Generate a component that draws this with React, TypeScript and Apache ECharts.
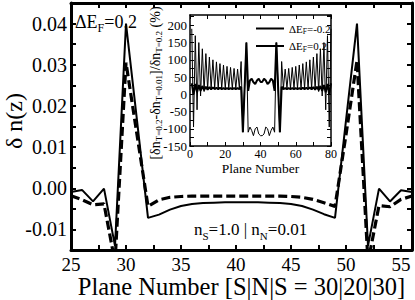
import React, { useEffect, useRef } from 'react';
import * as echarts from 'echarts';

const FONT = "'Liberation Serif', 'Times New Roman', serif";

// ---- main panel data ----
const planeNumbers = [25, 26, 27, 28, 29, 30, 31, 32, 33, 34, 35, 36, 37, 38, 39, 40, 41, 42, 43, 44, 45, 46, 47, 48, 49, 50, 51, 52, 53, 54, 55, 56];
const deltaNSolid = [-0.0009, -0.0004, -0.0032, -0.0001, -0.0140, 0.0400, 0.0165, -0.0072, -0.0064, -0.0052, -0.0043, -0.0038, -0.0036, -0.0035, -0.0034, -0.0034, -0.0034, -0.0034, -0.0035, -0.0036, -0.0038, -0.0043, -0.0052, -0.0063, -0.0072, 0.0165, 0.0400, -0.0140, -0.0001, -0.0032, -0.0005, -0.0009];
const deltaNDashed = [-0.0018, -0.0028, -0.0040, -0.0038, -0.0180, 0.0305, 0.0130, -0.0044, -0.0028, -0.0022, -0.0020, -0.0019, -0.0019, -0.0019, -0.0019, -0.0019, -0.0019, -0.0019, -0.0019, -0.0019, -0.0020, -0.0022, -0.0027, -0.0035, -0.0044, 0.0130, 0.0310, -0.0180, -0.0042, -0.0045, -0.0027, -0.0019];
const mainXLabelValues = [25, 30, 35, 40, 45, 50, 55];
const mainYLabelValues = [-0.01, 0, 0.01, 0.02, 0.03, 0.04];
const mainYLabels = ['-0.01', '0.00', '0.01', '0.02', '0.03', '0.04'];

// ---- inset data ----
const insetPlanes = [1, 2, 3, 4, 5, 6, 7, 8, 9, 10, 11, 12, 13, 14, 15, 16, 17, 18, 19, 20, 21, 22, 23, 24, 25, 26, 27, 28, 29, 30, 31, 32, 33, 34, 35, 36, 37, 38, 39, 40, 41, 42, 43, 44, 45, 46, 47, 48, 49, 50, 51, 52, 53, 54, 55, 56, 57, 58, 59, 60, 61, 62, 63, 64, 65, 66, 67, 68, 69, 70, 71, 72, 73, 74, 75, 76, 77, 78, 79, 80];
const insetThick = [32, 0, 30, 6, 27, 10, 24, 12, 22, 13, 21, 14, 20, 15, 19, 15, 19, 15, 18, 15, 18, 15, 18, 15, 18, 15, 18, 15, 22, -110,
  20, 150, 10, 40, 45, 35, 30, 40, 45, 36, 36, 45, 40, 30, 35, 45, 40, 10, 150, 20,
  -110, 22, 15, 18, 15, 18, 15, 18, 15, 18, 15, 18, 15, 19, 15, 19, 15, 20, 14, 21, 13, 22, 12, 24, 10, 27, 6, 30, 0, 32];
const insetThin = [190, -95, 170, -45, 150, -5, 132, 8, 118, 14, 108, 16, 100, 17, 94, 17, 89, 17, 85, 17, 81, 17, 78, 17, 75, 17, 73, 17, 95, -110,
  20, 150, -110, -95, -105, -120, -100, -95, -115, -120, -120, -115, -95, -100, -120, -105, -95, -110, 150, 20,
  -110, 95, 17, 73, 17, 75, 17, 78, 17, 81, 17, 85, 17, 89, 17, 94, 17, 100, 16, 108, 14, 118, 8, 132, -5, 150, -45, 170, -95, 190];
const insetXLabelValues = [0, 20, 40, 60, 80];
const insetYLabelValues = [-150, -100, -50, 0, 50, 100, 150, 200];
const insetSeriesNames = ['ΔE_F=-0.2', 'ΔE_F=0.2'];

const zip = (xs: number[], ys: number[]) => xs.map((x, i) => [x, ys[i]]);
const has = (arr: number[], v: number) => arr.findIndex((a) => Math.abs(a - v) < 1e-9);

const richFor = (size: number, sub: number, lh: number) => ({
  m: { fontFamily: FONT, fontSize: size, color: '#000', fill: '#000', lineHeight: lh },
  s: { fontFamily: FONT, fontSize: sub, color: '#000', fill: '#000', lineHeight: sub + 1, verticalAlign: 'bottom' },
});
const toRich = (name: string) => {
  const m = name.match(/^(.*)_(\w)(.*)$/);
  if (!m) return `{m|${name}}`;
  return `{m|${m[1]}}{s|${m[2]}}{m|${m[3]}}`;
};

function frameAxis(gridIndex: number, position: string, lineW: number, tickLen: number, tickW: number, extra: any) {
  return {
    type: 'value',
    gridIndex,
    position,
    nameMoveOverlap: false,
    axisLine: { show: true, onZero: false, lineStyle: { color: '#000', width: lineW } },
    axisTick: { show: true, inside: true, length: tickLen, lineStyle: { color: '#000', width: tickW } },
    splitLine: { show: false },
    ...extra,
  };
}

export default function App() {
  const ref = useRef<HTMLDivElement>(null);
  useEffect(() => {
    const chart = echarts.init(ref.current!, null, { renderer: 'svg' });
    const mainXAxis = { min: 25, max: 56, interval: 2.5 };
    const mainYAxis = { min: -0.015, max: 0.045, interval: 0.005 };
    const insetXAxis = { min: 0, max: 80, interval: 10 };
    const insetYAxis = { min: -150, max: 230, interval: 25 };
    const option: any = {
      animation: false,
      backgroundColor: '#fff',
      textStyle: { fontFamily: FONT, color: '#000' },
      grid: [
        { left: 71, right: 3, top: 3, bottom: 50, containLabel: false, outerBoundsMode: 'none' },
        { left: 190, right: 84, top: 15, bottom: 154, containLabel: false, outerBoundsMode: 'none', show: true, backgroundColor: '#fff', borderWidth: 0 },
      ],
      xAxis: [
        frameAxis(0, 'bottom', 3, 5, 2, {
          ...mainXAxis,
          axisLabel: {
            margin: 6, fontFamily: FONT, fontSize: 19, lineHeight: 16, color: '#000',
            showMaxLabel: false,
            formatter: (v: number) => (has(mainXLabelValues, v) >= 0 ? String(v) : ''),
          },
          name: 'Plane Number [S|N|S = 30|20|30]',
          nameLocation: 'middle',
          nameGap: 25,
          nameTextStyle: { fontFamily: FONT, fontSize: 24.5, lineHeight: 22, color: '#000' },
        }),
        frameAxis(0, 'top', 3, 5, 2, { ...mainXAxis, axisLabel: { show: false } }),
        frameAxis(1, 'bottom', 1.5, 4, 1, {
          ...insetXAxis,
          axisLabel: {
            margin: 2, fontFamily: FONT, fontSize: 12, lineHeight: 12, color: '#000',
            formatter: (v: number) => (has(insetXLabelValues, v) >= 0 ? String(v) : ''),
          },
          name: 'Plane Number',
          nameLocation: 'middle',
          nameGap: 16.5,
          nameTextStyle: { fontFamily: FONT, fontSize: 13.5, lineHeight: 11, color: '#000' },
        }),
        frameAxis(1, 'top', 1.5, 4, 1, { ...insetXAxis, axisLabel: { show: false } }),
      ],
      yAxis: [
        frameAxis(0, 'left', 3, 5, 2, {
          ...mainYAxis,
          axisLabel: {
            margin: 4, fontFamily: FONT, fontSize: 20, color: '#000',
            showMinLabel: false, showMaxLabel: false,
            formatter: (v: number) => {
              const i = has(mainYLabelValues, v);
              return i >= 0 ? mainYLabels[i] : '';
            },
          },
        }),
        frameAxis(0, 'right', 3, 5, 2, { ...mainYAxis, axisLabel: { show: false } }),
        frameAxis(1, 'left', 1.5, 4, 1, {
          ...insetYAxis,
          axisLabel: {
            margin: 3, fontFamily: FONT, fontSize: 13, color: '#000',
            showMaxLabel: false,
            formatter: (v: number) => (has(insetYLabelValues, v) >= 0 ? String(v) : ''),
          },
        }),
        frameAxis(1, 'right', 1.5, 4, 1, { ...insetYAxis, axisLabel: { show: false } }),
      ],
      legend: {
        data: insetSeriesNames,
        orient: 'vertical',
        left: 250,
        top: 18,
        itemWidth: 28,
        itemHeight: 10,
        itemGap: 5,
        itemStyle: { opacity: 0 },
        formatter: (name: string) => toRich(name),
        textStyle: { fontFamily: FONT, fontSize: 11, color: '#000', rich: richFor(11, 7.5, 14) },
      },
      series: [
        {
          type: 'line', xAxisIndex: 0, yAxisIndex: 0, symbol: 'none', clip: true,
          data: zip(planeNumbers, deltaNSolid),
          lineStyle: { color: '#000', width: 2 },
        },
        {
          type: 'line', xAxisIndex: 0, yAxisIndex: 0, symbol: 'none', clip: true,
          data: zip(planeNumbers, deltaNDashed),
          lineStyle: { color: '#000', width: 3.2, type: [9, 4] },
        },
        {
          name: insetSeriesNames[0],
          type: 'line', xAxisIndex: 2, yAxisIndex: 2, symbol: 'none', clip: true,
          data: zip(insetPlanes, insetThick),
          lineStyle: { color: '#000', width: 2 },
          itemStyle: { color: '#000' },
          z: 5,
        },
        {
          name: insetSeriesNames[1],
          type: 'line', xAxisIndex: 2, yAxisIndex: 2, symbol: 'none', clip: true,
          data: zip(insetPlanes, insetThin),
          lineStyle: { color: '#000', width: 1 },
          itemStyle: { color: '#000' },
          z: 5,
        },
      ],
      graphic: [
        {
          type: 'text', x: 14, y: 121, rotation: Math.PI / 2,
          style: { text: 'δ n(z)', fontFamily: FONT, fontSize: 24, fill: '#000', align: 'center', verticalAlign: 'middle', textAlign: 'center', textVerticalAlign: 'middle' },
        },
        {
          type: 'text', x: 75, y: 21.5,
          style: { text: toRich('ΔE_F=0.2'), rich: richFor(18, 12, 24), fill: '#000', align: 'left', verticalAlign: 'middle', textAlign: 'left', textVerticalAlign: 'middle' },
        },
        {
          type: 'text', x: 194, y: 229.5,
          style: { text: '{m|n}{s|S}{m|=1.0 | n}{s|N}{m|=0.01}', rich: richFor(17, 11, 24), fill: '#000', align: 'left', verticalAlign: 'middle', textAlign: 'left', textVerticalAlign: 'middle' },
        },
        {
          type: 'text', x: 155, y: 83, rotation: Math.PI / 2,
          style: { text: '{m|[δn}{s|T=0.2}{m|-δn}{s|T=0.01}{m|]/δn}{s|T=0.2}{m| (%)}', rich: richFor(14, 9, 16), fill: '#000', align: 'center', verticalAlign: 'middle', textAlign: 'center', textVerticalAlign: 'middle' },
        },
      ],
    };
    chart.setOption(option);
    return () => chart.dispose();
  }, []);
  return <div ref={ref} style={{ position: 'fixed', left: 0, top: 0, width: 415, height: 300, background: '#fff' }} />;
}
